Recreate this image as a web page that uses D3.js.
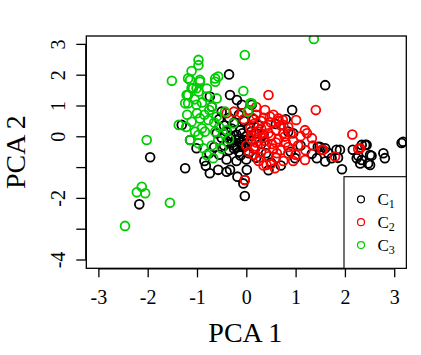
<!DOCTYPE html>
<html>
<head>
<meta charset="utf-8">
<script src="https://cdn.jsdelivr.net/npm/d3@7"></script>
<style>
  body { margin: 0; background: #fff; }
  svg text { font-family: "Liberation Serif", "Times New Roman", serif; }
</style>
</head>
<body>
<svg width="421" height="355"></svg>
<script>
// class C1 (black)
var c1x = [1.60,-0.35,0.93,0.95,3.18,3.15,2.44,2.34,2.16,1.90,1.60,1.49,1.66,1.60,1.86,2.24,2.34,2.51,2.31,2.51,2.78,2.81,1.94,1.45,1.33,1.83,2.41,2.27,2.54,2.47,0.99,1.43,1.73,
  -1.95,-1.24,-2.17,-0.82,-0.74,-0.03,-0.18,-0.06,-0.57,-0.33,0.01,-0.40,-0.03,-1.14,-1.01,-1.31,-0.33,-0.09,-0.70,-0.74,0.11,-0.19,0.85,
  -0.55,-0.45,-0.35,-0.25,-0.15,-0.05,0.05,0.15,-0.60,-0.50,-0.40,-0.30,-0.20,-0.10,0.00,0.10,0.20,-0.45,-0.35,-0.25,-0.15,-0.05,0.05,0.15,
  -0.55,-0.40,-0.20,0.00,0.20,-0.65,-0.75,-0.85,-0.30,-0.12,0.30,0.35,-0.22,-0.08,0.10,-0.50,0.25,0.40,0.50,0.70,0.45,0.90,1.10,0.60,0.80,
  -0.28,-0.18,-0.10,-0.32,-0.05,-0.15,-0.25,-0.38,0.02,-0.12];
var c1y = [1.66,2.01,0.85,0.10,-0.18,-0.22,-0.28,-0.28,-0.44,-0.44,-0.39,-0.34,-0.54,-0.82,-0.70,-0.71,-0.77,-0.61,-0.88,-0.93,-0.55,-0.71,-1.07,-0.34,-0.57,-0.44,-0.28,-0.63,-0.63,-0.88,-0.71,-0.71,-0.71,
  -0.68,-1.04,-2.21,-0.96,-1.20,-1.94,-1.31,-1.53,-1.09,-1.09,-1.09,-1.15,-1.42,-0.12,-0.39,0.37,1.34,1.02,0.96,1.29,1.02,1.18,0.15,
  0.55,0.35,0.60,0.45,0.70,0.50,0.30,0.55,0.10,-0.05,0.15,-0.10,0.05,-0.20,0.00,-0.15,0.10,-0.30,-0.45,-0.30,-0.50,-0.35,-0.55,-0.40,
  -0.60,-0.75,-0.80,-0.75,-0.70,-0.35,-0.55,-0.80,0.25,0.20,-0.25,0.05,-0.12,0.10,0.15,0.80,0.35,-0.55,-0.85,-0.95,-1.10,-0.50,-0.30,0.40,0.55,
  -0.20,-0.35,-0.28,0.02,-0.12,-0.08,-0.40,-0.18,-0.22,-0.62];

// class C2 (red)
var c2x = [0.45,1.41,2.15,1.56,1.80,2.31,1.01,0.74,0.48,1.23,1.33,1.19,0.58,0.41,1.53,2.27,-0.03,0.38,0.65,0.75,1.19,0.78,
  -0.40,-0.25,-0.10,0.05,0.20,0.30,0.15,0.40,0.50,0.60,0.25,0.10,0.35,0.50,0.65,0.80,0.95,1.05,0.20,0.40,0.55,0.70,0.85,1.00,
  0.30,0.45,0.60,0.75,0.15,0.25,0.00,0.05,0.90,1.10,0.70,0.35,0.55,0.12,0.45,0.85,1.20,1.35,0.30,0.60,0.10,0.75,0.95,0.50,0.35,0.20,-0.05,0.65,0.85,
  0.22,0.38,0.52,0.18,0.32,0.08,0.62,0.28];
var c2y = [1.34,0.85,0.06,-0.44,-0.66,-0.39,0.53,0.53,0.64,0.10,-0.06,-0.77,-1.04,-0.93,-0.44,-0.41,-1.42,0.85,0.58,0.37,0.20,-0.01,
  0.75,0.80,0.75,0.85,0.70,0.50,0.40,0.30,0.45,0.20,0.15,0.05,-0.05,0.00,-0.10,-0.20,-0.15,-0.30,-0.20,-0.30,-0.40,-0.45,-0.55,-0.60,
  -0.50,-0.65,-0.70,-0.80,-0.60,-0.80,-0.30,-0.50,0.10,0.00,0.35,0.60,0.70,0.60,0.10,-0.35,-0.45,-0.30,0.25,-0.20,-0.10,0.10,-0.80,-0.90,-0.95,0.95,0.55,0.50,0.30,
  -0.05,-0.15,-0.25,-0.40,0.08,0.25,-0.55,-0.68];

// class C3 (green)
var c3x = [1.37,-0.03,-0.97,-0.97,-1.11,-1.51,-1.18,-0.94,-0.57,-0.63,-0.06,0.08,-1.11,-1.01,-1.18,-1.24,-2.02,-1.37,-1.22,-2.12,-2.22,-2.05,-1.55,-2.46,0.11,0.03,
  -1.14,-0.94,-1.08,-1.21,-0.97,-0.80,-1.18,-1.01,-0.70,-0.60,-0.63,-0.94,-0.77,-1.04,-0.84,-0.63,-1.14,-0.97,-0.60,-0.43,-1.11,-0.90,-0.57,-0.87,-0.80,-0.67,-0.26,-0.47,-0.97,
  -0.90,-0.75,-1.00,-0.85,-0.65,-0.55,-1.20,-0.70,-0.50,-0.40,-0.35,-0.80,-1.05];
var c3y = [3.16,2.64,2.48,2.31,2.12,1.80,1.88,1.83,1.94,1.77,1.47,1.07,1.56,1.56,1.34,1.07,-0.12,0.37,0.30,-1.64,-1.82,-1.85,-2.16,-2.91,1.07,0.80,
  1.83,1.77,1.56,1.34,1.45,1.29,1.07,1.02,0.96,1.23,1.88,0.58,0.53,0.15,0.15,0.15,-0.12,-0.23,0.64,0.80,0.47,0.26,-0.12,-0.39,-0.61,-0.71,0.42,0.10,0.04,
  1.10,0.85,0.75,0.70,0.45,0.30,0.70,-0.30,-0.40,0.20,-0.10,1.55,1.20];

var classes = ["1", "2", "3"];
var classColors = ["#000000", "#ff0000", "#00cd00"];

var xTicks = [-3, -2, -1, 0, 1, 2, 3];
var yTicks = [-4, -3, -2, -1, 0, 1, 2, 3];
var yLabels = [-4, -2, 0, 1, 2, 3];

var svg = d3.select("svg");
var pLeft = 86.3, pRight = 406.3, pTop = 36, pBottom = 268.3;

var x = d3.scaleLinear().domain([-3.245, 3.245]).range([pLeft, pRight]);
var y = d3.scaleLinear().domain([-4.286, 3.256]).range([pBottom, pTop]);

svg.append("clipPath").attr("id", "plotclip")
  .append("rect")
  .attr("x", pLeft).attr("y", pTop)
  .attr("width", pRight - pLeft).attr("height", pBottom - pTop);

// points, drawn class by class
var series = [[c1x, c1y], [c2x, c2y], [c3x, c3y]];
var pts = svg.append("g").attr("clip-path", "url(#plotclip)");
series.forEach(function(s, i) {
  var rows = s[0].map(function(v, j) { return [v, s[1][j]]; });
  pts.selectAll(".p" + i)
    .data(rows)
    .enter()
    .append("circle")
    .attr("class", "p" + i)
    .attr("cx", function(d) { return x(d[0]); })
    .attr("cy", function(d) { return y(d[1]); })
    .attr("r", 4.4)
    .attr("fill", "none")
    .attr("stroke", classColors[i])
    .attr("stroke-width", 1.8);
});

// box
svg.append("rect")
  .attr("x", pLeft).attr("y", pTop)
  .attr("width", pRight - pLeft).attr("height", pBottom - pTop)
  .attr("fill", "none").attr("stroke", "#000").attr("stroke-width", 1.3);

// x axis
var xAxis = svg.append("g")
  .attr("transform", "translate(0," + pBottom + ")")
  .call(d3.axisBottom(x).tickValues(xTicks).tickSize(9).tickSizeOuter(0)
    .tickFormat(function(d) { return String(d); }));
xAxis.attr("font-size", 20).attr("font-family", "Liberation Serif");
xAxis.select(".domain").attr("d", "M" + x(-3) + ",0.5H" + x(3)).attr("stroke-width", 1.3);
xAxis.selectAll(".tick line").attr("stroke-width", 1.3);
xAxis.selectAll(".tick text")
  .attr("y", 35.7).attr("dy", 0)
  .attr("fill", "#000");

// y axis
var yAxis = svg.append("g")
  .attr("transform", "translate(" + pLeft + ",0)")
  .call(d3.axisLeft(y).tickValues(yTicks).tickSize(10).tickSizeOuter(0)
    .tickFormat(function(d) { return yLabels.indexOf(d) >= 0 ? String(d) : ""; }));
yAxis.attr("font-size", 20).attr("font-family", "Liberation Serif");
yAxis.select(".domain").attr("d", "M-0.5," + y(-4) + "V" + y(3)).attr("stroke-width", 1.3);
yAxis.selectAll(".tick line").attr("stroke-width", 1.3);
yAxis.selectAll(".tick text")
  .attr("x", 0).attr("dy", 0)
  .attr("transform", "translate(-21.3,0) rotate(-90)")
  .attr("text-anchor", "middle")
  .attr("fill", "#000");

// axis titles
svg.append("text")
  .attr("x", (pLeft + pRight) / 2 - 1).attr("y", 341.5)
  .attr("text-anchor", "middle")
  .attr("font-size", 28)
  .text("PCA 1");
svg.append("text")
  .attr("transform", "translate(25," + ((pTop + pBottom) / 2) + ") rotate(-90)")
  .attr("text-anchor", "middle")
  .attr("font-size", 28)
  .text("PCA 2");

// legend
var lg = svg.append("g");
lg.append("rect")
  .attr("x", 344).attr("y", 176.7)
  .attr("width", pRight - 344).attr("height", pBottom - 176.7)
  .attr("fill", "#fff").attr("stroke", "#000").attr("stroke-width", 1.1);
classes.forEach(function(c, i) {
  var ly = 199.3 + i * 22.9;
  lg.append("circle")
    .attr("cx", 361).attr("cy", ly).attr("r", 3.5)
    .attr("fill", "none").attr("stroke", classColors[i]).attr("stroke-width", 1.2);
  var t = lg.append("text")
    .attr("x", 377.5).attr("y", ly + 5.5)
    .attr("font-size", 17);
  t.append("tspan").text("C");
  t.append("tspan").attr("font-size", 12).attr("dy", 3).text(c);
});
</script>
</body>
</html>
